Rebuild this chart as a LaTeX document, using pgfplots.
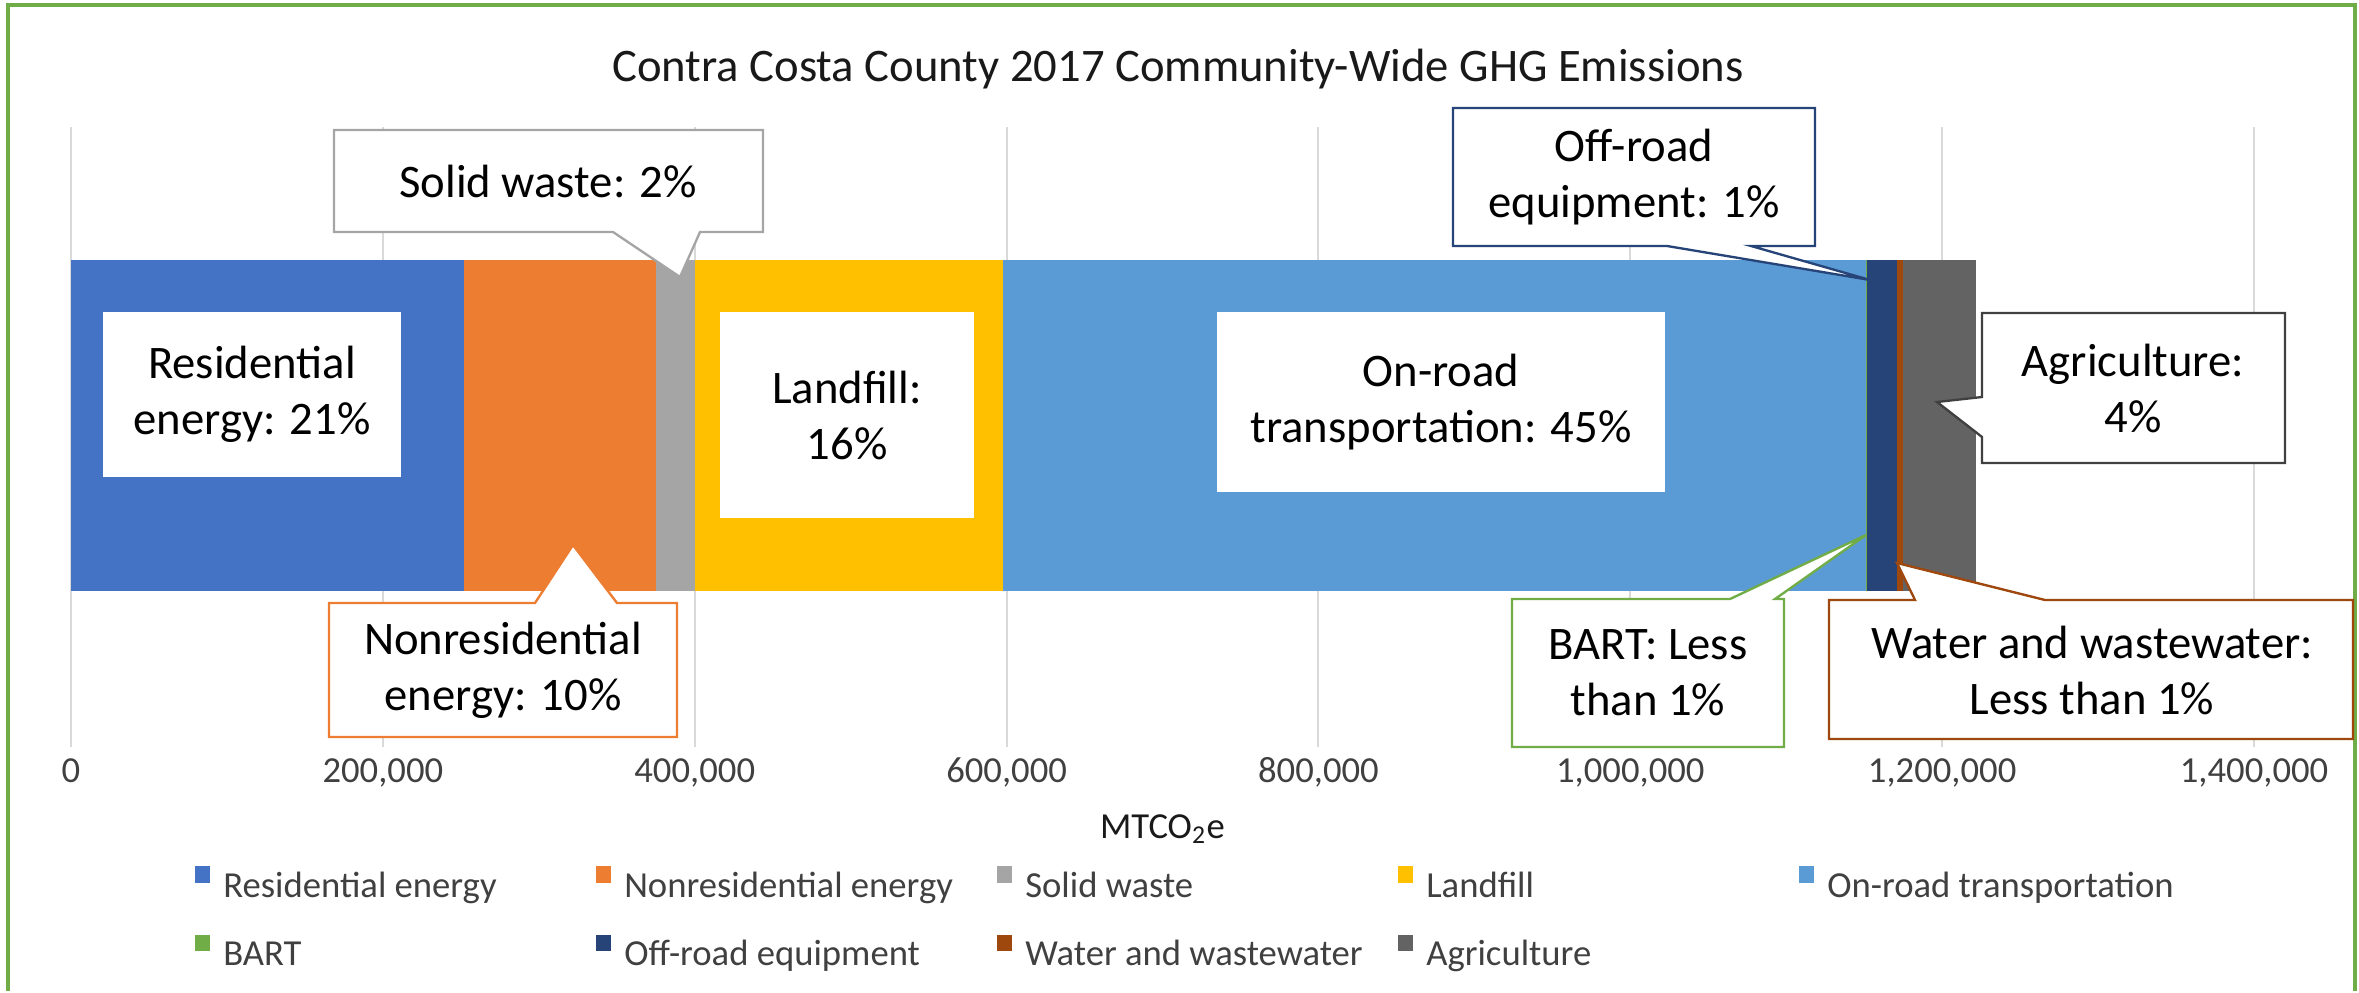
\documentclass[border=0pt]{standalone}
\usepackage{fontspec}
\setmainfont{Carlito}
\usepackage{pgfplots}
\pgfplotsset{compat=1.18}
\definecolor{cRes}{HTML}{4472C4}
\definecolor{cNon}{HTML}{ED7D31}
\definecolor{cSol}{HTML}{A5A5A5}
\definecolor{cLan}{HTML}{FFC000}
\definecolor{cOnr}{HTML}{5B9BD5}
\definecolor{cBar}{HTML}{70AD47}
\definecolor{cOff}{HTML}{264478}
\definecolor{cWat}{HTML}{9E480E}
\definecolor{cAgr}{HTML}{636363}
\definecolor{frameg}{HTML}{70AD47}
\definecolor{gridg}{HTML}{D9D9D9}
\definecolor{txtg}{HTML}{404040}
\pgfplotsset{lg/.style={fill=#1, draw=none, legend image code/.code={\fill[#1] (0pt,1.5pt) rectangle (4.5pt,6.5pt);}}}
\begin{document}
\begin{tikzpicture}[x=0.3pt,y=-0.3pt]
\useasboundingbox (0,0) rectangle (2359,992);
\draw[frameg, line width=1.3pt] (8,991) -- (8,5) -- (2355,5) -- (2355,991);
\node[anchor=base, font=\fontsize{14}{16.8}\selectfont, text=black!90] at (1178,82) {Contra Costa County 2017 Community-Wide GHG Emissions};
\begin{axis}[
  at={(21.3pt,-224.1pt)}, anchor=south west,
  scale only axis, width=654.9pt, height=186pt,
  xbar stacked, bar width=99.3pt,
  xmin=0, xmax=1400000, ymin=-1, ymax=0.9286,
  ytick=\empty, xtick={0,200000,400000,600000,800000,1000000,1200000,1400000},
  scaled x ticks=false,
  /pgf/number format/.cd, fixed, 1000 sep={,}, assume math mode=true, /pgfplots/.cd,
  xticklabel style={font=\fontsize{11}{13}\selectfont, text=txtg, anchor=base, yshift=-10.5pt},
  major tick length=0pt,
  axis line style={draw=none},
  xmajorgrids, grid style={draw=gridg, line width=0.6pt},
  xlabel={MTCO\textsubscript{2}e},
  xlabel style={at={(axis description cs:0.5,0)}, anchor=base, yshift=-27.3pt, font=\fontsize{11}{13}\selectfont, text=black!90},
  legend columns=5,
  legend style={at={(axis description cs:0.0568,-0.1926)}, anchor=north west, draw=none, fill=none, inner sep=0pt, outer sep=0pt, row sep=8.7pt,
    font=\fontsize{11}{13}\selectfont, text=txtg,
    nodes={inner sep=0pt, text height=8pt, text depth=2.5pt},
    /tikz/every odd column/.append style={column sep=4pt},
    /tikz/every even column/.append style={column sep=0pt}},
]
\addplot[lg=cRes] coordinates {(252000,0)};
\addlegendentry{\makebox[111.8pt][l]{Residential energy}}
\addplot[lg=cNon] coordinates {(123000,0)};
\addlegendentry{\makebox[111.8pt][l]{Nonresidential energy}}
\addplot[lg=cSol] coordinates {(25000,0)};
\addlegendentry{\makebox[111.8pt][l]{Solid waste}}
\addplot[lg=cLan] coordinates {(198000,0)};
\addlegendentry{\makebox[111.8pt][l]{Landfill}}
\addplot[lg=cOnr] coordinates {(553000,0)};
\addlegendentry{\makebox[111.8pt][l]{On-road transportation}}
\addplot[lg=cBar] coordinates {(1000,0)};
\addlegendentry{\makebox[111.8pt][l]{BART}}
\addplot[lg=cOff] coordinates {(19000,0)};
\addlegendentry{\makebox[111.8pt][l]{Off-road equipment}}
\addplot[lg=cWat] coordinates {(4000,0)};
\addlegendentry{\makebox[111.8pt][l]{Water and wastewater}}
\addplot[lg=cAgr] coordinates {(47000,0)};
\addlegendentry{\makebox[111.8pt][l]{Agriculture}}
\end{axis}
\tikzset{co/.style={fill=white, line width=0.7pt, line join=miter}}
\tikzset{ct/.style={align=center, font=\fontsize{14}{16.8}\selectfont, text=black}}
% Residential
\draw[co, draw=cRes] (102,311) rectangle (402,478);
\node[ct] at (252,394.5) {Residential\\energy: 21\%};
% Nonresidential
\draw[co, draw=cNon] (329,603) -- (535,603) -- (573,545) -- (617,603) -- (677,603) -- (677,737) -- (329,737) -- cycle;
\node[ct] at (503,670) {Nonresidential\\energy: 10\%};
% Solid waste
\draw[co, draw=cSol] (334,130) -- (763,130) -- (763,232) -- (700,232) -- (680,277) -- (613,232) -- (334,232) -- cycle;
\node[ct] at (548,181) {Solid waste: 2\%};
% Landfill
\draw[co, draw=cLan] (719,311) rectangle (975,519);
\node[ct] at (847,415) {Landfill:\\16\%};
% On-road
\draw[co, draw=cOnr] (1216,311) rectangle (1666,493);
\node[ct] at (1441,402) {On-road\\transportation: 45\%};
% Off-road
\draw[co, draw=cOff] (1453,108) -- (1815,108) -- (1815,246) -- (1751,246) -- (1870,280) -- (1667,246) -- (1453,246) -- cycle;
\node[ct] at (1634,177) {Off-road\\equipment: 1\%};
% Agriculture
\draw[co, draw=black!75] (1982,313) -- (2285,313) -- (2285,463) -- (1982,463) -- (1982,437) -- (1937,402) -- (1982,397) -- cycle;
\node[ct] at (2133,388) {Agriculture:\\4\%};
% BART
\draw[co, draw=cBar] (1512,599) -- (1730,599) -- (1866,535) -- (1775,599) -- (1784,599) -- (1784,747) -- (1512,747) -- cycle;
\node[ct] at (1648,673) {BART: Less\\than 1\%};
% Water
\draw[co, draw=cWat] (1829,600) -- (1915,600) -- (1897,563) -- (2045,600) -- (2353,600) -- (2353,739) -- (1829,739) -- cycle;
\node[ct] at (2092,670) {Water and wastewater:\\Less than 1\%};
\end{tikzpicture}
\end{document}
